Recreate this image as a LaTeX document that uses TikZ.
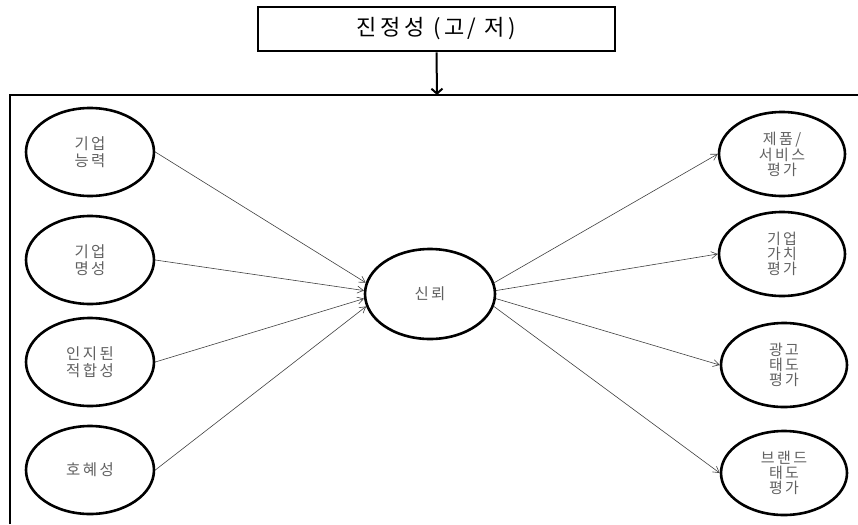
\documentclass[tikz,border=0pt]{standalone}
\usepackage{fontspec}
\newfontfamily\kr{Noto Sans CJK KR}
\newfontfamily\krs[LetterSpace=16]{Noto Sans CJK KR}
\newfontfamily\krt[LetterSpace=16]{Noto Sans CJK KR}
\usetikzlibrary{shapes.geometric,arrows.meta}
\tikzset{
  oval/.style={ellipse, draw=black, line width=2.6pt, minimum width=128pt, minimum height=88pt,
    inner sep=0pt, align=center, font=\krs\fontsize{15.5}{17.5}\selectfont, text=black!62},
  link/.style={draw=black!75, line width=0.6pt, -{Straight Barb[length=6pt,width=7pt]}},
  titlebox/.style={draw=black, line width=2.8pt, minimum width=357pt, minimum height=44pt,
    inner sep=0pt, font=\krt\fontsize{22}{25}\selectfont},
}
\begin{document}
\begin{tikzpicture}[x=1pt,y=-1pt]
\useasboundingbox (0,0) rectangle (858,524);
% title
\node[titlebox] (t) at (436.5,29) {진정성 (고/ 저)};
\coordinate (ft) at (437,95);
\draw[line width=2pt, -{Straight Barb[length=5pt,width=11pt,line width=2pt]}] (t.south) -- (ft);
% frame
\coordinate (fa) at (10,524);
\coordinate (fb) at (10,95);
\coordinate (fc) at (858,95);
\draw[line width=2.6pt] (fa) -- (fb) -- (fc);
% left
\node[oval] (l1) at (90,152) {기업\\능력};
\node[oval] (l2) at (90,260) {기업\\명성};
\node[oval] (l3) at (90,362) {인지된\\적합성};
\node[oval] (l4) at (90,470) {호혜성};
% centre
\node[oval, minimum width=130pt, minimum height=90pt] (c) at (430,294) {신뢰};
% right
\tikzset{roval/.style={oval, minimum width=126pt, minimum height=84pt, font=\krs\fontsize{15}{15}\selectfont}}
\node[roval] (r1) at (782,154) {제품/\\서비스\\평가};
\node[roval] (r2) at (782,254) {기업\\가치\\평가};
\node[roval] (r3) at (784,365) {광고\\태도\\평가};
\node[roval] (r4) at (784,473) {브랜드\\태도\\평가};
% links
\draw[link] (l1.east) -- (c.170);
\draw[link] (l2.east) -- (c.177);
\draw[link] (l3.east) -- (c.184);
\draw[link] (l4.east) -- (c.191);
\draw[link] (c.10) -- (r1.west);
\draw[link] (c.3) -- (r2.west);
\draw[link] (c.-4) -- (r3.west);
\draw[link] (c.-11) -- (r4.west);
\end{tikzpicture}
\end{document}
